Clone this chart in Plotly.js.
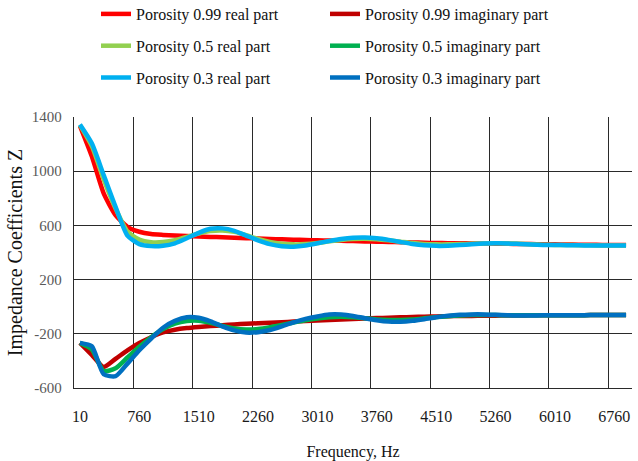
<!DOCTYPE html>
<html>
<head>
<meta charset="utf-8">
<script src="https://cdn.plot.ly/plotly-3.0.1.min.js"></script>
<style>html,body{margin:0;padding:0;background:#fff;}#chart{width:638px;height:461px;}</style>
</head>
<body>
<div id="chart"></div>
<script>
// Frequencies (Hz): 10 to 6910 in steps of 150
var frequency = [10,160,310,460,610,760,910,1060,1210,1360,1510,1660,1810,1960,2110,2260,2410,2560,2710,2860,3010,3160,3310,3460,3610,3760,3910,4060,4210,4360,4510,4660,4810,4960,5110,5260,5410,5560,5710,5860,6010,6160,6310,6460,6610,6760,6910];
var tickLabels = [10,760,1510,2260,3010,3760,4510,5260,6010,6760];
var yTicks = [-600,-200,200,600,1000,1400];

var real099 = [1335,1110,836,676,590,553,536,530,526,522,518,515,512,509,506,503,500,497,495,492,490,488,486,484,482,480,478,476,474,472,470,469,468,467,466,465,464,463,462,461,460,459,458,457,456,455,455];
var imag099 = [-267,-355,-445,-385,-322,-268,-225,-190,-170,-158,-150,-143,-137,-131,-126,-122,-118,-114,-110,-106,-102,-98,-94,-90,-87,-84,-81,-78,-76,-74,-72,-70,-69,-68,-67,-66,-65,-65,-64,-64,-63,-63,-63,-62,-62,-62,-62];
var real05 = [1340,1185,940,725,555,495,476,477,490,515,540,558,562,552,528,500,478,465,460,462,470,482,493,500,502,498,490,480,470,463,460,460,462,465,467,468,467,464,461,458,456,455,454,453,452,452,451];
var imag05 = [-267,-315,-475,-455,-375,-295,-225,-165,-125,-105,-103,-118,-142,-160,-168,-165,-152,-135,-117,-100,-87,-78,-75,-78,-86,-94,-98,-98,-94,-86,-77,-70,-65,-62,-61,-62,-63,-64,-64,-64,-63,-63,-63,-62,-62,-62,-62];
var real03 = [1345,1206,971,737,525,462,447,450,468,505,545,575,578,560,525,490,462,446,443,452,468,485,500,509,511,505,493,478,463,453,449,450,455,461,466,468,467,463,459,456,455,454,453,452,452,451,451];
var imag03 = [-267,-292,-499,-513,-420,-321,-235,-155,-105,-78,-82,-108,-145,-175,-191,-188,-172,-145,-115,-90,-72,-58,-58,-68,-85,-100,-110,-111,-104,-92,-78,-67,-60,-57,-57,-60,-63,-65,-65,-64,-63,-63,-63,-62,-62,-62,-62];

var step = frequency[1] - frequency[0];
var boundaries = tickLabels.map(function(v){ return v - step/2; });

function tr(name, y, color, legend, group) {
  return {
    x: frequency, y: y, type: 'scatter', mode: 'lines', name: name,
    line: {color: color, width: 4.5, shape: 'spline', smoothing: 0.6},
    legend: legend, legendgroup: group
  };
}

var data = [
  tr('Porosity 0.99 real part', real099, '#FF0000', 'legend', 'a'),
  tr('Porosity 0.99 imaginary part', imag099, '#C00000', 'legend2', 'b'),
  tr('Porosity 0.5 real part', real05, '#92D050', 'legend', 'c'),
  tr('Porosity 0.5 imaginary part', imag05, '#00B050', 'legend2', 'd'),
  tr('Porosity 0.3 real part', real03, '#00B0F0', 'legend', 'e'),
  tr('Porosity 0.3 imaginary part', imag03, '#0070C0', 'legend2', 'f')
];

var serif = 'Liberation Serif, Times New Roman, serif';
var legendCommon = {
  orientation: 'v', xref: 'paper', yref: 'paper', xanchor: 'left', yanchor: 'top',
  font: {family: serif, size: 16, color: '#111'}, tracegroupgap: 8,
  bgcolor: 'rgba(0,0,0,0)', borderwidth: 0
};

var layout = {
  width: 638, height: 461,
  margin: {l: 74, r: 6, t: 117, b: 73, autoexpand: false},
  paper_bgcolor: '#fff', plot_bgcolor: '#fff',
  showlegend: true,
  legend: Object.assign({}, legendCommon, {x: (96 - 74) / 558, y: 1 + (117 + 3) / 271}),
  legend2: Object.assign({}, legendCommon, {x: (325 - 74) / 558, y: 1 + (117 + 3) / 271}),
  xaxis: {
    range: [frequency[0] - step/2, frequency[frequency.length-1] + step/2],
    tickmode: 'array', tickvals: boundaries, ticktext: tickLabels.map(String),
    ticklabelshift: 6, ticklabelstandoff: 14,
    showgrid: true, gridcolor: '#2a2a2a', gridwidth: 1,
    showline: true, linecolor: '#2a2a2a', linewidth: 1.2,
    zeroline: false, ticks: '',
    tickfont: {family: serif, size: 16, color: '#1a1a1a'},
    title: {text: 'Frequency, Hz', font: {family: serif, size: 16, color: '#111'}, standoff: 21}
  },
  yaxis: {
    range: [-600, 1400], tickmode: 'array', tickvals: yTicks, ticktext: yTicks.map(String),
    showgrid: true, gridcolor: '#2a2a2a', gridwidth: 1,
    showline: true, linecolor: '#2a2a2a', linewidth: 1.2,
    zeroline: false, ticks: '', ticklabelstandoff: 8,
    tickfont: {family: serif, size: 15, color: '#595959'},
    title: {text: 'Impedance Coefficients Z', font: {family: serif, size: 20, color: '#111'}, standoff: 3}
  }
};

Plotly.newPlot('chart', data, layout, {displayModeBar: false, staticPlot: true});
</script>
</body>
</html>
